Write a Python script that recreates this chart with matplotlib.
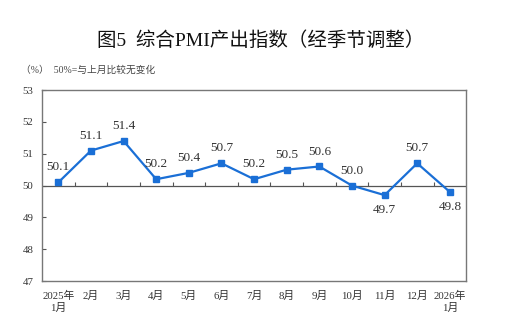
import numpy as np
import matplotlib.pyplot as plt

plt.rcParams['font.family'] = ['Liberation Serif', 'Noto Sans CJK SC']

# 数据
months = ['2025年\n1月', '2月', '3月', '4月', '5月', '6月', '7月', '8月', '9月',
          '10月', '11月', '12月', '2026年\n1月']
values = [50.1, 51.1, 51.4, 50.2, 50.4, 50.7, 50.2, 50.5, 50.6, 50.0, 49.7, 50.7, 49.8]
yticks = [47, 48, 49, 50, 51, 52, 53]

x = np.arange(len(months))

fig = plt.figure(figsize=(5.22, 3.35), dpi=100)
ax = fig.add_axes([0.0805, 0.161, 0.8125, 0.570])

ax.plot(x, values, color='#1a6fd6', lw=1.6, marker='s', ms=4, zorder=3)

# 50 基准线及刻度
ax.axhline(50, color='#555555', lw=0.9, zorder=2)
ax.vlines(x[:-1] + 0.5, 50, 50.1, color='#555555', lw=0.8, zorder=2)

for xi, v in zip(x, values):
    if v < 50:
        ax.text(xi, v - 0.28, f'{v:.1f}', ha='center', va='top', fontsize=9.5, color='#333333')
    else:
        ax.text(xi, v + 0.28, f'{v:.1f}', ha='center', va='bottom', fontsize=9.5, color='#333333')

ax.set_xlim(-0.5, len(months) - 0.5)
ax.set_ylim(47, 53)
ax.set_yticks(yticks)
ax.set_xticks(x)
ax.set_xticklabels(months, fontsize=7.8, color='#333333', linespacing=1.3)
ax.tick_params(axis='x', length=0, pad=7)
ax.tick_params(axis='y', direction='in', length=3, labelsize=7.8, labelcolor='#333333',
               color='#555555', pad=14)
for lab in ax.get_yticklabels():
    lab.set_horizontalalignment('left')
for s in ax.spines.values():
    s.set_color('#777777')
    s.set_linewidth(1.0)

fig.text(0.5, 0.878, '图5  综合PMI产出指数（经季节调整）', ha='center', va='center',
         fontsize=14, color='#111111')
fig.text(0.04, 0.79, '（%）  50%=与上月比较无变化', ha='left', va='center',
         fontsize=7, color='#444444')

fig.savefig('out.png', dpi=100)
